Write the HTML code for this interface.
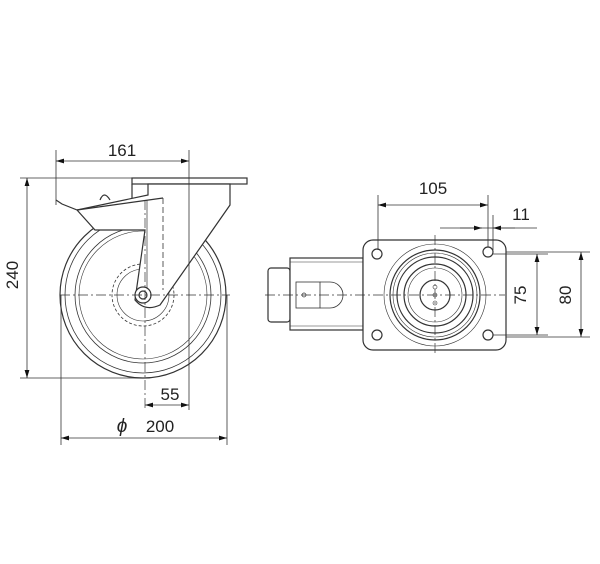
<!DOCTYPE html>
<html><head><style>body{margin:0;background:#fff}svg{display:block}</style></head><body>
<svg width="600" height="564" viewBox="0 0 600 564" xmlns="http://www.w3.org/2000/svg" font-family="Liberation Sans, sans-serif" fill="none" stroke="#333" stroke-width="1.2">
<defs><marker id="a" viewBox="0 0 10 6" refX="10" refY="3" markerWidth="10" markerHeight="6" orient="auto-start-reverse"><path d="M0,0L10,3L0,6z" fill="#111" stroke="none"/></marker></defs>
<!-- LEFT VIEW -->
<circle cx="143" cy="295" r="83"/>
<circle cx="143" cy="295" r="78" stroke-width="0.8"/>
<circle cx="143" cy="295" r="68" stroke-width="0.8"/>
<circle cx="143" cy="295" r="64" stroke-width="0.6"/>
<circle cx="143" cy="295" r="31" stroke-width="0.8" stroke-dasharray="3 2"/>
<circle cx="143" cy="295" r="26" stroke-width="0.6"/>
<rect x="132" y="178" width="115" height="6" fill="#fff"/>
<path d="M56,200 L62,204 L77,210 L95,230 L145,230 L135,300 Q145,312 160,305 L207,238 L230,205 L230,184 L148,184 L148,195 L77,210" fill="#fff"/>
<path d="M77,210 L163,198" />
<path d="M100,200 Q104,190 110,200 M132,198 L132,184" />
<line x1="147" y1="200" x2="147" y2="290" stroke-width="0.7"/>
<line x1="163" y1="198" x2="163" y2="290" stroke-dasharray="6 3" stroke-width="0.8"/>
<circle cx="143" cy="295" r="8" fill="#fff"/>
<circle cx="143" cy="295" r="4"/>
<line x1="145" y1="200" x2="145" y2="410" stroke-width="0.7" stroke-dasharray="10 3 2 3"/>
<line x1="60" y1="295" x2="230" y2="295" stroke-width="0.7" stroke-dasharray="10 3 2 3"/>
<!-- dims left -->
<g stroke-width="0.8">
<line x1="56" y1="150" x2="56" y2="205"/><line x1="189" y1="150" x2="189" y2="410"/>
<line x1="56" y1="161" x2="189" y2="161" marker-start="url(#a)" marker-end="url(#a)"/>
<line x1="20" y1="178" x2="132" y2="178"/><line x1="20" y1="378" x2="143" y2="378"/>
<line x1="27" y1="178" x2="27" y2="378" marker-start="url(#a)" marker-end="url(#a)"/>
<line x1="145" y1="405" x2="189" y2="405" marker-start="url(#a)" marker-end="url(#a)"/>
<line x1="61" y1="295" x2="61" y2="445"/><line x1="227" y1="295" x2="227" y2="445"/>
<line x1="61" y1="438" x2="227" y2="438" marker-start="url(#a)" marker-end="url(#a)"/>
</g>
<g fill="#222" stroke="none" font-size="17">
<text x="122" y="156" text-anchor="middle">161</text>
<text x="170" y="400" text-anchor="middle">55</text>
<text x="160" y="432" text-anchor="middle">200</text>
<text x="122" y="432" text-anchor="middle" font-style="italic" font-size="19">ϕ</text>
<text transform="translate(18,275) rotate(-90)" text-anchor="middle">240</text>
</g>
<!-- RIGHT VIEW -->
<rect x="268" y="268" width="22" height="54" rx="3" fill="#fff"/>
<rect x="290" y="258" width="73" height="72" fill="#fff"/>
<line x1="290" y1="262" x2="363" y2="262" stroke-width="0.6"/><line x1="290" y1="326" x2="363" y2="326" stroke-width="0.6"/>
<rect x="296" y="282" width="24" height="26" stroke-width="0.8"/>
<path d="M320,282 L330,282 A13,13 0 0 1 330,308 L320,308" stroke-width="0.8"/>
<circle cx="304" cy="295" r="2" stroke-width="0.7"/>
<rect x="363" y="240" width="143" height="110" rx="10" fill="#fff"/>
<circle cx="377" cy="254" r="5"/><circle cx="488" cy="252" r="5"/><circle cx="377" cy="335" r="5"/><circle cx="488" cy="335" r="5"/>
<circle cx="435" cy="295" r="51" stroke-width="0.6"/>
<circle cx="435" cy="295" r="45"/>
<circle cx="435" cy="295" r="42" stroke-width="0.6"/>
<circle cx="435" cy="295" r="38"/>
<circle cx="435" cy="295" r="31"/>
<circle cx="435" cy="295" r="27" stroke-width="0.6"/>
<circle cx="435" cy="295" r="15"/>
<circle cx="435" cy="287" r="2" stroke-width="0.6"/><circle cx="435" cy="295" r="2" stroke-width="0.6"/><circle cx="435" cy="303" r="2" stroke-width="0.6"/>
<line x1="265" y1="295" x2="505" y2="295" stroke-width="0.7" stroke-dasharray="10 3 2 3"/>
<line x1="435" y1="235" x2="435" y2="355" stroke-width="0.7" stroke-dasharray="10 3 2 3"/>
<g stroke-width="0.8">
<line x1="378" y1="195" x2="378" y2="250"/><line x1="488" y1="195" x2="488" y2="247"/><line x1="493" y1="215" x2="493" y2="250"/>
<line x1="378" y1="205" x2="488" y2="205" marker-start="url(#a)" marker-end="url(#a)"/>
<line x1="440" y1="228" x2="537" y2="228"/>
<line x1="460" y1="228" x2="482" y2="228" marker-end="url(#a)"/>
<line x1="515" y1="228" x2="493" y2="228" marker-end="url(#a)"/>
<line x1="493" y1="254" x2="548" y2="254"/><line x1="493" y1="335" x2="548" y2="335"/>
<line x1="537" y1="254" x2="537" y2="335" marker-start="url(#a)" marker-end="url(#a)"/>
<line x1="506" y1="252" x2="590" y2="252"/><line x1="506" y1="337" x2="590" y2="337"/>
<line x1="581" y1="252" x2="581" y2="337" marker-start="url(#a)" marker-end="url(#a)"/>
</g>
<g fill="#222" stroke="none" font-size="17">
<text x="433" y="194" text-anchor="middle">105</text>
<text x="521" y="220" text-anchor="middle">11</text>
<text transform="translate(526,295) rotate(-90)" text-anchor="middle">75</text>
<text transform="translate(571,295) rotate(-90)" text-anchor="middle">80</text>
</g>
</svg>
</body></html>
